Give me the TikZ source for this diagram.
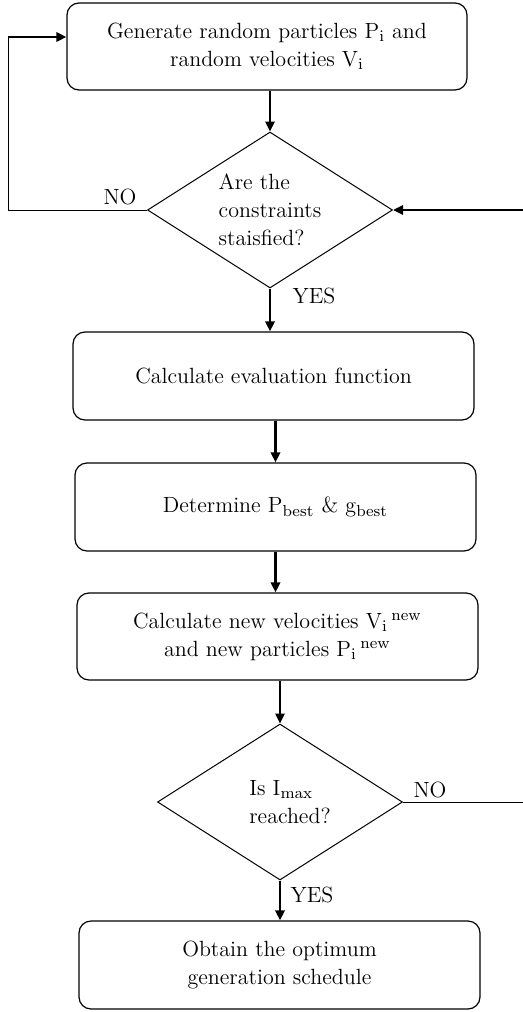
\documentclass[tikz,border=0pt]{standalone}
\usetikzlibrary{shapes.geometric,arrows.meta}

\begin{document}
\begin{tikzpicture}[x=0.5pt,y=-0.5pt,
	every node/.style={font=\fontsize{11}{14}\selectfont},
	stepbox/.style={draw, rectangle, rounded corners=6pt, line width=0.6pt, align=center, inner sep=0pt},
	decision/.style={draw, diamond, aspect=1.57, minimum width=122.5pt, minimum height=78pt, inner sep=0pt, line width=0.5pt, align=left},
	arrow/.style={draw=black, line width=1.4pt, -{Triangle[length=5pt,width=4.6pt]}},
	thinline/.style={draw=black, line width=0.5pt}]
	\useasboundingbox (0,0) rectangle (523,1012);
	% process steps
	\node[stepbox, minimum width=200pt, minimum height=43.5pt] (init) at (267,46.5) {Generate random particles P$_\mathrm{i}$ and\\ random velocities V$_\mathrm{i}$};
	\node[decision] (check) at (270,210) {Are the\\constraints\\staisfied?};
	\node[stepbox, minimum width=200.5pt, minimum height=44pt] (eval) at (273.5,376) {Calculate evaluation function};
	\node[stepbox, minimum width=200.5pt, minimum height=44pt] (best) at (275.5,507) {Determine P$_\mathrm{best}$ \& g$_\mathrm{best}$};
	\node[stepbox, minimum width=200.5pt, minimum height=43.5pt] (update) at (277.5,636.5) {Calculate new velocities V$_\mathrm{i}$\,$^\mathrm{new}$\\ and new particles P$_\mathrm{i}$\,$^\mathrm{new}$};
	\node[decision] (iter) at (280,802) {\hspace*{10pt}Is I$_\mathrm{max}$\\\hspace*{10pt}reached?};
	\node[stepbox, minimum width=200.5pt, minimum height=44pt] (result) at (279.5,965) {Obtain the optimum\\ generation schedule};
	% free ends at the borders
	\coordinate (loopTop) at (8,37);
	\coordinate (rightIn) at (523,210);
	\coordinate (rightOut) at (523,802);
	% connectors
	\draw[arrow] (check.north |- init.south) -- (check.north);
	\draw[arrow] (check.south) -- (check.south |- eval.north);
	\draw[arrow] (best.north |- eval.south) -- (best.north);
	\draw[arrow] (best.south) -- (best.south |- update.north);
	\draw[arrow] (iter.north |- update.south) -- (iter.north);
	\draw[arrow] (iter.south) -- (iter.south |- result.north);
	\draw[thinline] (check.west) -| (loopTop);
	\draw[arrow] (loopTop) -- (init.west |- loopTop);
	\draw[arrow] (rightIn) -- (check.east);
	\draw[thinline] (iter.east) -- (rightOut);
	% labels
	\node (noA) at (120,197) {NO};
	\node (yesA) at (314,296) {YES};
	\node (noB) at (430,790) {NO};
	\node (yesB) at (312,895) {YES};
\end{tikzpicture}
\end{document}
